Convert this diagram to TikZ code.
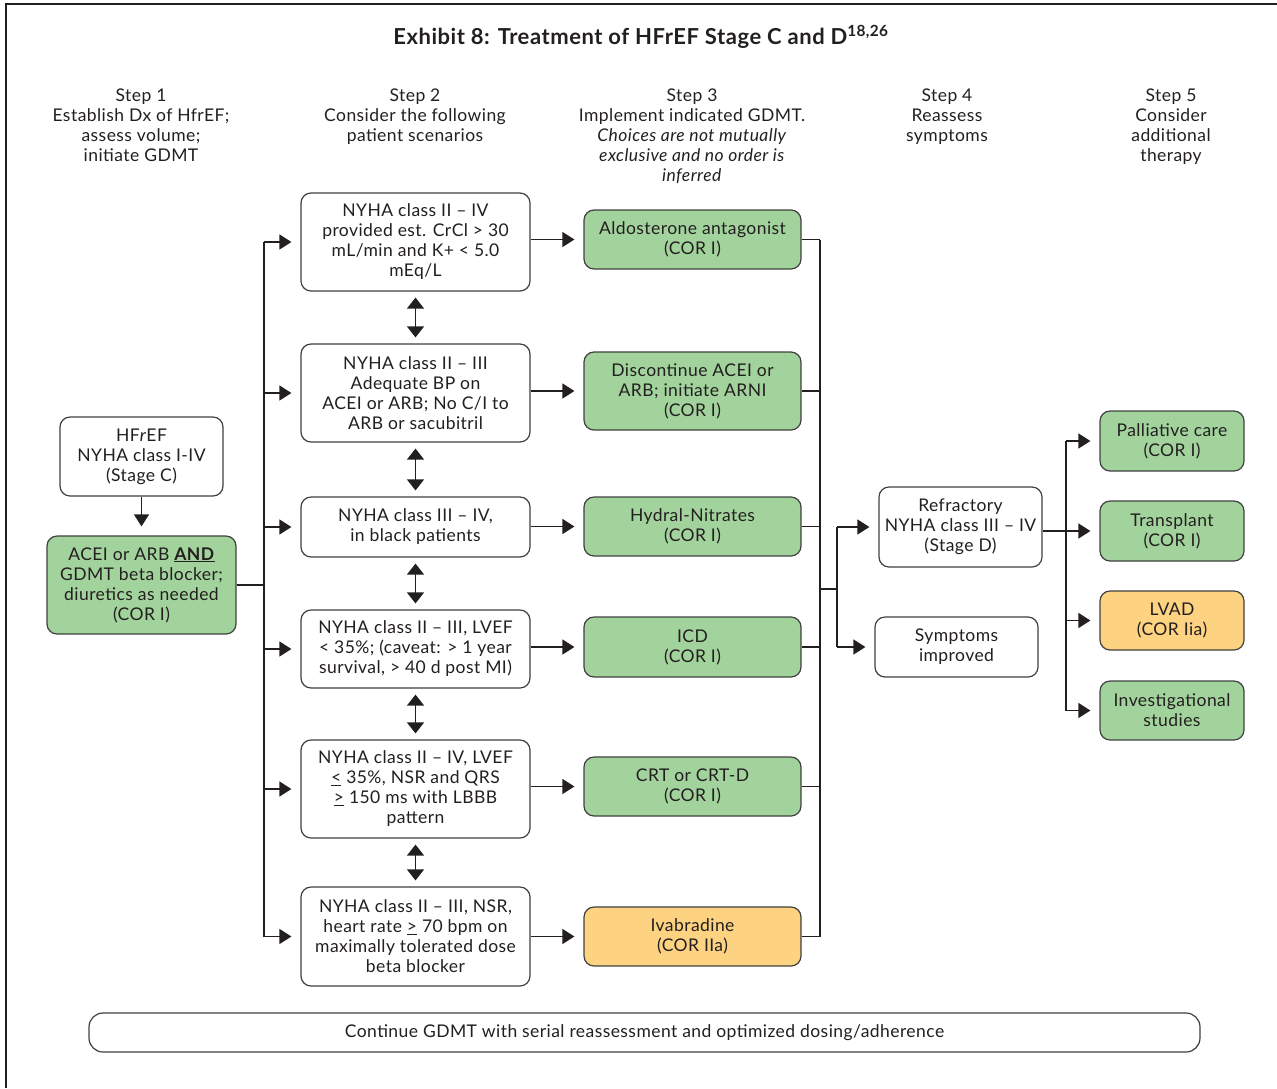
\documentclass[tikz,border=0pt]{standalone}
\usepackage{fontspec}
\setmainfont[LetterSpace=2.5]{Lato}
\usepackage{tikz}
\usetikzlibrary{positioning,arrows.meta}

\definecolor{boxline}{HTML}{404040}
\definecolor{txt}{HTML}{231F20}
\definecolor{corgreen}{HTML}{A3D39D}
\definecolor{coryellow}{HTML}{FDD280}

\tikzset{
  stepbox/.style={draw=boxline,line width=1.2pt,rounded corners=10pt,fill=white,
    align=center,inner sep=2pt,text=txt,font=\fontsize{17.5}{20}\selectfont},
  greenbox/.style={stepbox,fill=corgreen},
  yellowbox/.style={stepbox,fill=coryellow},
  header/.style={align=center,inner sep=0pt,anchor=north,text=txt,font=\fontsize{17.5}{20}\selectfont},
  conn/.style={draw=txt,line width=1.3pt},
  arr/.style={conn,-{Triangle[length=12pt,width=15pt]},shorten >=9pt},
  darr/.style={conn,{Triangle[length=11pt,width=17pt]}-{Triangle[length=11pt,width=17pt]},shorten <=6pt,shorten >=6pt},
}

\begin{document}
\begin{tikzpicture}[x=1pt,y=-1pt]
 \useasboundingbox (0,0) rectangle (1277,1088);
 \draw[line width=1.5pt,txt] (6,1088) -- (6,4) -- (1277,4);

 % title and step headers
 \node[text=txt,font=\fontsize{22}{26}\selectfont\bfseries] (title) at (641,37)
   {Exhibit 8: Treatment of HFrEF Stage C and D\textsuperscript{18,26}};
 \node[header] (hd1) at (141,89) {Step 1\\Establish Dx of HfrEF;\\assess volume;\\initiate GDMT};
 \node[header] (hd2) at (415,89) {Step 2\\Consider the following\\patient scenarios};
 \node[header] (hd3) at (692,89) {Step 3\\Implement indicated GDMT.\\\textit{Choices are not mutually}\\\textit{exclusive and no order is}\\\textit{inferred}};
 \node[header] (hd4) at (947,89) {Step 4\\Reassess\\symptoms};
 \node[header] (hd5) at (1171,89) {Step 5\\Consider\\additional\\therapy};

 % step 1
 \node[stepbox,minimum width=163pt,minimum height=79pt] (hfref) at (141.5,456.5)
   {HF\textit{r}EF\\NYHA class I-IV\\(Stage C)};
 \node[greenbox,minimum width=189pt,minimum height=98pt] (acei) at (141.5,585)
   {ACEI or ARB \underline{\textbf{AND}}\\GDMT beta blocker;\\diuretics as needed\\(COR I)};

 % step 2
 \node[stepbox,minimum width=229pt,minimum height=98pt] (s2a) at (415.5,242)
   {NYHA class II -- IV\\provided est. CrCl > 30\\mL/min and K+ < 5.0\\mEq/L};
 \node[stepbox,minimum width=229pt,minimum height=98pt] (s2b) at (415.5,393)
   {NYHA class II -- III\\Adequate BP on\\ACEI or ARB; No C/I to\\ARB or sacubitril};
 \node[stepbox,minimum width=229pt,minimum height=60pt] (s2c) at (415.5,527)
   {NYHA class III -- IV,\\in black patients};
 \node[stepbox,minimum width=229pt,minimum height=78pt] (s2d) at (415.5,649)
   {NYHA class II -- III, LVEF\\< 35\%; (caveat: > 1 year\\survival, > 40 d post MI)};
 \node[stepbox,minimum width=229pt,minimum height=98pt] (s2e) at (415.5,789)
   {NYHA class II -- IV, LVEF\\\underline{<} 35\%, NSR and QRS\\\underline{>} 150 ms with LBBB\\pattern};
 \node[stepbox,minimum width=229pt,minimum height=99pt] (s2f) at (415.5,936.5)
   {NYHA class II -- III, NSR,\\heart rate \underline{>} 70 bpm on\\maximally tolerated dose\\beta blocker};

 % step 3
 \node[greenbox,minimum width=217pt,minimum height=59pt] (g1) at (692.5,239.5)
   {Aldosterone antagonist\\(COR I)};
 \node[greenbox,minimum width=217pt,minimum height=78pt] (g2) at (692.5,391)
   {Discontinue ACEI or\\ARB; initiate ARNI\\(COR I)};
 \node[greenbox,minimum width=217pt,minimum height=59pt] (g3) at (692.5,526.5)
   {Hydral-Nitrates\\(COR I)};
 \node[greenbox,minimum width=217pt,minimum height=60pt] (g4) at (692.5,647)
   {ICD\\(COR I)};
 \node[greenbox,minimum width=217pt,minimum height=59pt] (g5) at (692.5,786.5)
   {CRT or CRT-D\\(COR I)};
 \node[yellowbox,minimum width=217pt,minimum height=59pt] (g6) at (692.5,936.5)
   {Ivabradine\\(COR IIa)};

 % step 4
 \node[stepbox,minimum width=163pt,minimum height=80pt] (refr) at (960.5,527)
   {Refractory\\NYHA class III -- IV\\(Stage D)};
 \node[stepbox,minimum width=163pt,minimum height=60pt] (symp) at (956.5,647)
   {Symptoms\\improved};

 % step 5
 \node[greenbox,minimum width=144pt,minimum height=60pt] (pall) at (1172,441)
   {Palliative care\\(COR I)};
 \node[greenbox,minimum width=144pt,minimum height=60pt] (trans) at (1172,531)
   {Transplant\\(COR I)};
 \node[yellowbox,minimum width=144pt,minimum height=59pt] (lvad) at (1172,620.5)
   {LVAD\\(COR Iia)};
 \node[greenbox,minimum width=144pt,minimum height=59pt] (invs) at (1172,710.5)
   {Investigational\\studies};

 \node[stepbox,rounded corners=14pt,minimum width=1111pt,minimum height=39pt] (cont) at (644.5,1032.5)
   {Continue GDMT with serial reassessment and optimized dosing/adherence};

 % connectors
 \coordinate (sp1) at (264,589);
 \coordinate (sp2) at (820,589);
 \coordinate (br2) at (837,589);
 \coordinate (sp3) at (1066,531);

 \draw[arr] (hfref) -- (acei);
 \draw[conn] (acei.east) -- (acei.east -| sp1);
 \draw[conn] (s2a.west -| sp1) -- (s2f.west -| sp1);
 \foreach \b in {s2a,s2b,s2c,s2d,s2e,s2f}
   \draw[arr] (\b.west -| sp1) -- (\b.west);
 \foreach \a/\b in {s2a/s2b,s2b/s2c,s2c/s2d,s2d/s2e,s2e/s2f}
   \draw[darr] (\a) -- (\b);
 \foreach \a/\b in {s2a/g1,s2b/g2,s2c/g3,s2d/g4,s2e/g5,s2f/g6}
   \draw[arr] (\b.west -| \a.east) -- (\b.west);

 \foreach \b in {g1,g2,g3,g4,g5,g6}
   \draw[conn] (\b.east) -- (\b.east -| sp2);
 \draw[conn] (g1.east -| sp2) -- (g6.east -| sp2);
 \draw[conn] (sp2) -- (br2);
 \draw[conn] (refr.west -| br2) -- (symp.west -| br2);
 \draw[arr] (refr.west -| br2) -- (refr.west);
 \draw[arr] (symp.west -| br2) -- (symp.west);

 \draw[conn] (trans.west -| refr.east) -- (sp3);
 \draw[conn] (pall.west -| sp3) -- (invs.west -| sp3);
 \foreach \b in {pall,trans,lvad,invs}
   \draw[arr] (\b.west -| sp3) -- (\b.west);
\end{tikzpicture}
\end{document}
